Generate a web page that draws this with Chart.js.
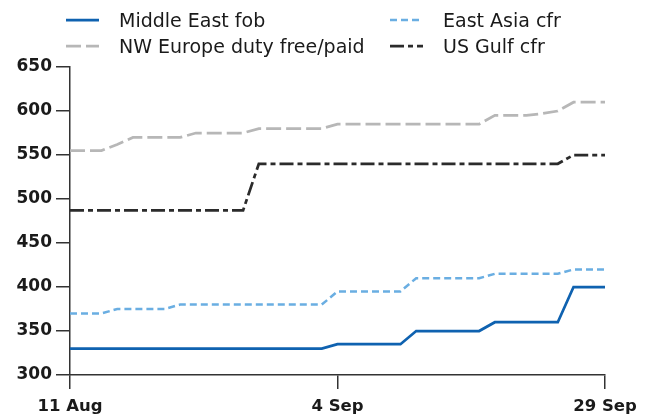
<!DOCTYPE html>
<html>
<head>
<meta charset="utf-8">
<script src="https://cdn.jsdelivr.net/npm/chart.js@4.4.1/dist/chart.umd.min.js"></script>
<style>
  html, body { margin: 0; padding: 0; background: #fff; }
  .wrap { position: relative; width: 646px; height: 420px; }
  .legend-item { position: absolute; height: 24px; display: flex; align-items: center;
    font-family: "DejaVu Sans", sans-serif; font-size: 19px; color: #1a1a1a; white-space: nowrap; }
  .legend-item svg { margin-right: 20px; }
</style>
</head>
<body>
<div class="wrap">
  <canvas id="lineChart1" width="646" height="420"></canvas>
  <div id="legend"></div>
</div>
<script>
"use strict";

// weekday dates, 25 Aug left out
const dates = [
  '11 Aug', '12 Aug', '13 Aug', '14 Aug', '15 Aug',
  '18 Aug', '19 Aug', '20 Aug', '21 Aug', '22 Aug',
  '26 Aug', '27 Aug', '28 Aug', '29 Aug',
  '1 Sep', '2 Sep', '3 Sep', '4 Sep', '5 Sep',
  '8 Sep', '9 Sep', '10 Sep', '11 Sep', '12 Sep',
  '15 Sep', '16 Sep', '17 Sep', '18 Sep', '19 Sep',
  '22 Sep', '23 Sep', '24 Sep', '25 Sep', '26 Sep',
  '29 Sep'
];
const shownDates = ['11 Aug', '4 Sep', '29 Sep'];

const middleEast = [
  330, 330, 330, 330, 330, 330, 330, 330, 330, 330, 330, 330, 330, 330, 330, 330, 330,
  335, 335, 335, 335, 335,
  350, 350, 350, 350, 350,
  360, 360, 360, 360, 360,
  400, 400, 400
];
const eastAsia = [
  370, 370, 370,
  375, 375, 375, 375,
  380, 380, 380, 380, 380, 380, 380, 380, 380, 380,
  395, 395, 395, 395, 395,
  410, 410, 410, 410, 410,
  415, 415, 415, 415, 415,
  420, 420, 420
];
const nwEurope = [
  555, 555, 555,
  562,
  570, 570, 570, 570,
  575, 575, 575, 575,
  580, 580, 580, 580, 580,
  585, 585, 585, 585, 585, 585, 585, 585, 585, 585,
  595, 595, 595,
  597,
  600,
  610, 610, 610
];
const usGulf = [
  487, 487, 487, 487, 487, 487, 487, 487, 487, 487, 487, 487,
  540, 540, 540, 540, 540, 540, 540, 540, 540, 540,
  540, 540, 540, 540, 540, 540, 540, 540, 540, 540,
  550, 550, 550
];
const yTicks = [300, 350, 400, 450, 500, 550, 600, 650];

const series = [
  { label: 'Middle East fob', data: middleEast, color: '#0f62b0', dash: [], width: 2.75, lx: 66, ly: 8 },
  { label: 'East Asia cfr', data: eastAsia, color: '#6aaee2', dash: [7, 4], width: 2.5, lx: 390, ly: 8 },
  { label: 'NW Europe duty free/paid', data: nwEurope, color: '#b7b7b7', dash: [15, 5], width: 2.75, lx: 66, ly: 34 },
  { label: 'US Gulf cfr', data: usGulf, color: '#2b2b2b', dash: [14, 4, 5, 4], width: 2.75, lx: 390, ly: 34 }
];

// html legend with svg line samples
const legendEl = document.getElementById('legend');
series.forEach(function (s) {
  var item = document.createElement('div');
  item.className = 'legend-item';
  item.style.left = s.lx + 'px';
  item.style.top = s.ly + 'px';
  item.innerHTML =
    '<svg width="33" height="6"><line x1="0" y1="3" x2="33" y2="3" stroke="' + s.color +
    '" stroke-width="' + s.width + '" stroke-dasharray="' + (s.dash.length ? s.dash.join(',') : 'none') +
    '"/></svg><span>' + s.label + '</span>';
  legendEl.appendChild(item);
});

const axisColor = '#333';

new Chart(document.getElementById('lineChart1'), {
  type: 'line',
  data: {
    labels: dates,
    datasets: series.map(function (s) {
      return {
        label: s.label,
        data: s.data,
        borderColor: s.color,
        borderWidth: s.width,
        borderDash: s.dash,
        pointRadius: 0,
        tension: 0,
        fill: false
      };
    })
  },
  options: {
    responsive: false,
    animation: false,
    layout: { padding: { top: 67, right: 41, left: 0, bottom: 0 } },
    plugins: { legend: { display: false }, tooltip: { enabled: false } },
    scales: {
      x: {
        offset: false,
        afterFit: function (scale) { scale.height = 45; },
        border: { color: axisColor, width: 1.5 },
        grid: {
          drawOnChartArea: false,
          tickLength: 14,
          lineWidth: 1.5,
          color: function (ctx) {
            return shownDates.indexOf(dates[ctx.index]) >= 0 ? axisColor : 'transparent';
          }
        },
        ticks: {
          autoSkip: false,
          maxRotation: 0,
          padding: 8,
          color: '#1a1a1a',
          font: { family: 'DejaVu Sans', size: 16.5, weight: 'bold' },
          callback: function (value, index) {
            return shownDates.indexOf(dates[index]) >= 0 ? dates[index] : '';
          }
        }
      },
      y: {
        min: yTicks[0],
        max: yTicks[yTicks.length - 1],
        afterFit: function (scale) { scale.width = 70; },
        afterBuildTicks: function (scale) {
          scale.ticks = yTicks.map(function (v) { return { value: v }; });
        },
        border: { color: axisColor, width: 1.5 },
        grid: { drawOnChartArea: false, tickLength: 14, lineWidth: 1.5, color: axisColor },
        ticks: { padding: 4, color: '#1a1a1a', font: { family: 'DejaVu Sans', size: 17, weight: 'bold' } }
      }
    }
  }
});
</script>
</body>
</html>
